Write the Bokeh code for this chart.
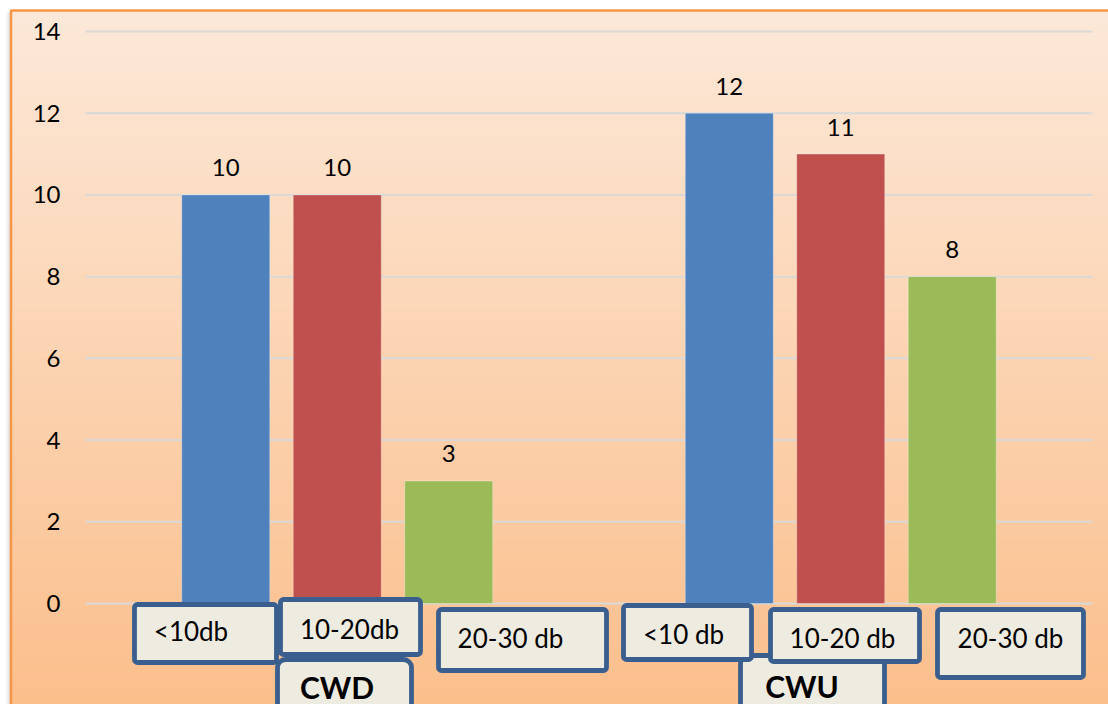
import numpy as np
from bokeh.plotting import figure
from bokeh.models import Range1d, ColumnDataSource
from bokeh.core.properties import value
from bokeh.embed import file_html
from bokeh.resources import INLINE

# ---- data -------------------------------------------------------------
groups = ["CWD", "CWU"]
cwd_values = [10, 10, 3]
cwu_values = [12, 11, 8]
cwd_labels = ["<10db", "10-20db", "20-30 db"]
cwu_labels = ["<10 db", "10-20 db", "20-30 db"]
bar_colors = ["#4F81BD", "#C0504D", "#9BBB59"]
y_ticks = [0, 2, 4, 6, 8, 10, 12, 14]

# ---- canvas geometry (pixels) ----------------------------------------
W, H = 1108, 704
PLOT_LEFT_PX = 85          # x pixel of category axis start
PX_PER_X = 503.5           # pixels per category
ZERO_PX = 603              # y pixel of value 0
PX_PER_Y = 40.857          # pixels per value unit

def dx(px):
    return (px - PLOT_LEFT_PX) / PX_PER_X

def dy(py):
    return (ZERO_PX - py) / PX_PER_Y

p = figure(width=W, height=H, output_backend="svg", toolbar_location=None,
           x_range=Range1d(dx(0), dx(W)), y_range=Range1d(dy(H), dy(0)),
           x_axis_type=None, y_axis_type=None, min_border=0)
p.grid.visible = False
p.outline_line_color = None
p.background_fill_color = "white"
p.border_fill_color = "white"

FONT = value("Lato")

# ---- soft shadow left of the chart frame ------------------------------
for i, a in enumerate([0.05, 0.09, 0.14, 0.2]):
    p.segment(x0=dx(6 + i), y0=dy(12), x1=dx(6 + i), y1=dy(H),
              line_color="#808080", line_alpha=a, line_width=1.2)

# ---- peach gradient fill ---------------------------------------------
top_rgb = np.array([253, 233, 217], dtype=float)
bot_rgb = np.array([251, 191, 140], dtype=float)
n_rows = 700
t = np.linspace(0.0, 1.0, n_rows)[:, None]           # 0 = bottom row
rgb = bot_rgb * (1 - t) + top_rgb * t
img = np.empty((n_rows, 1), dtype=np.uint32)
view = img.view(dtype=np.uint8).reshape((n_rows, 1, 4))
view[:, 0, 0] = rgb[:, 0].astype(np.uint8)
view[:, 0, 1] = rgb[:, 1].astype(np.uint8)
view[:, 0, 2] = rgb[:, 2].astype(np.uint8)
view[:, 0, 3] = 255
p.image_rgba(image=[img], x=dx(11), y=dy(H + 2), dw=dx(W + 2) - dx(11),
             dh=dy(10) - dy(H + 2))

# orange frame
p.quad(left=[dx(10.5)], right=[dx(W + 20)], top=[dy(10)], bottom=[dy(H + 20)],
       fill_color=None, line_color="#F79646", line_width=2.5)

# ---- gridlines & value axis labels -----------------------------------
p.segment(x0=[0] * len(y_ticks), y0=y_ticks, x1=[2] * len(y_ticks), y1=y_ticks,
          line_color="#D9D9D9", line_width=2)
p.text(x=[0] * len(y_ticks), y=y_ticks, text=[str(v) for v in y_ticks],
       x_offset=-25, text_align="right", text_baseline="middle",
       text_font=FONT, text_font_size="24px", text_color="black")

# ---- bars ------------------------------------------------------------
offsets = [-0.2214, 0.0, 0.2214]
bar_w = 0.1748
xs, tops, cols = [], [], []
for gi, vals in enumerate([cwd_values, cwu_values]):
    for si, v in enumerate(vals):
        xs.append(gi + 0.5 + offsets[si])
        tops.append(v)
        cols.append(bar_colors[si])
src = ColumnDataSource(dict(x=xs, top=tops, color=cols,
                            label=[str(v) for v in tops]))
p.vbar(x="x", top="top", bottom=0, width=bar_w, fill_color="color",
       line_color="white", line_alpha=0.3, line_width=1, source=src)
p.text(x="x", y="top", text="label", y_offset=-27, text_align="center",
       text_baseline="middle", text_font=FONT, text_font_size="24px",
       text_color="black", source=src)

# ---- callout boxes naming the categories (pixel layout) --------------
BOX_LINE = "#3A5F8E"
BOX_FILL = "#EEECE1"

def box(l, t_, r, b, radius):
    p.quad(left=[dx(l)], right=[dx(r)], top=[dy(t_)], bottom=[dy(b)],
           fill_color=BOX_FILL, line_color=BOX_LINE, line_width=4.8,
           border_radius=radius)

def label(txt, cx, mid, size, bold=False):
    p.text(x=[dx(cx)], y=[dy(mid)], text=[txt], text_align="center",
           text_baseline="middle", text_font=FONT,
           text_font_size=size, text_font_style="bold" if bold else "normal",
           text_color="black")

# group boxes sit behind the series boxes
group_boxes = [(277, 659, 411, 740), (740, 655, 884, 740)]
group_text = [(336.5, 686), (801.5, 685)]
for (l, t_, r, b), (cx, mid), name in zip(group_boxes, group_text, groups):
    box(l, t_, r, b, 8)
    label(name, cx, mid, "30px", bold=True)

series_boxes = [
    [(134, 604, 276, 662), (280, 599, 420, 654), (438, 609, 606, 670)],
    [(623, 605, 751, 659), (770, 609, 919, 661), (937, 609, 1083, 677)],
]
series_text = [
    [(190.5, 630.5), (349, 628.5), (510, 637.5)],
    [(683, 633.5), (842, 637), (1010, 637)],
]
for boxes, texts, names in zip(series_boxes, series_text, [cwd_labels, cwu_labels]):
    for (l, t_, r, b), (cx, mid), name in zip(boxes, texts, names):
        box(l, t_, r, b, 3)
        label(name, cx, mid, "26px")

open("out.html", "w").write(file_html(p, INLINE))
